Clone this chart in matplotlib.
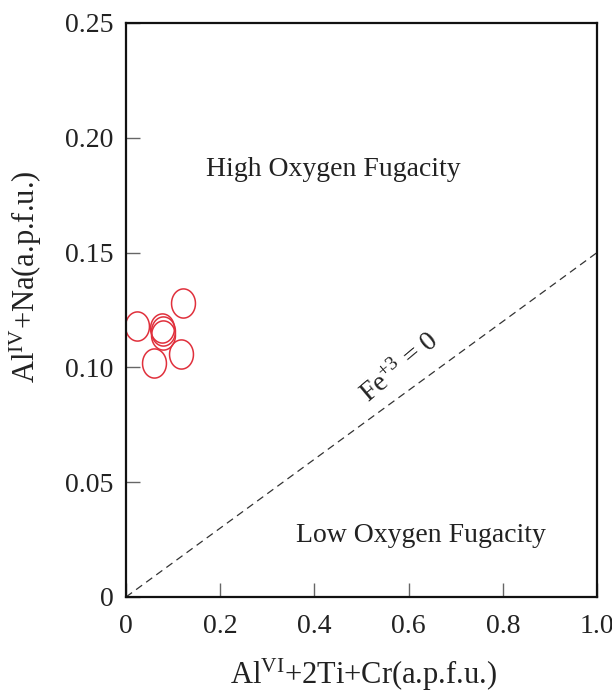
import matplotlib
matplotlib.use("Agg")
import matplotlib.pyplot as plt
import numpy as np
from matplotlib.path import Path

plt.rcParams['font.family'] = ['Liberation Serif', 'DejaVu Serif']
plt.rcParams['mathtext.fontset'] = 'custom'
plt.rcParams['mathtext.rm'] = 'Liberation Serif'
plt.rcParams['mathtext.it'] = 'Liberation Serif'

# data
x_vals = [0.122, 0.024, 0.077, 0.078, 0.079, 0.116, 0.060]
y_vals = [0.128, 0.118, 0.117, 0.116, 0.114, 0.106, 0.102]
line_x = [0.0, 1.0]
line_y = [0.0, 0.15]
x_ticks = [0, 0.2, 0.4, 0.6, 0.8, 1.0]
x_labels = ["0", "0.2", "0.4", "0.6", "0.8", "1.0"]
y_ticks = [0, 0.05, 0.10, 0.15, 0.20, 0.25]
y_labels = ["0", "0.05", "0.10", "0.15", "0.20", "0.25"]

fig = plt.figure(figsize=(6.12, 6.99), dpi=100)
ax = fig.add_axes([126/612, 1-597/699, 471/612, 574/699])

theta = np.linspace(0, 2*np.pi, 60)
ell = Path(np.column_stack([0.82*np.cos(theta), np.sin(theta)]))

ax.plot(line_x, line_y, linestyle=(0, (6, 4)), color='#333333', lw=0.9)
ax.plot(x_vals, y_vals, linestyle='none', marker=ell, markersize=21,
        markerfacecolor='none', markeredgecolor='#e0303c', markeredgewidth=1.1)

ax.set_xlim(0, 1.0)
ax.set_ylim(0, 0.25)
ax.set_xticks(x_ticks)
ax.set_xticklabels(x_labels)
ax.set_yticks(y_ticks)
ax.set_yticklabels(y_labels)
ax.tick_params(direction='in', length=10, width=1, colors='#666666',
               labelcolor='#222222', labelsize=20)
ax.tick_params(axis='x', pad=12)
ax.tick_params(axis='y', pad=9)
for s in ax.spines.values():
    s.set_linewidth(1.6)
    s.set_color('#111111')

ax.text(0.44, 0.186, "High Oxygen Fugacity", ha='center', va='center', fontsize=20, color='#222222')
ax.text(0.626, 0.027, "Low Oxygen Fugacity", ha='center', va='center', fontsize=20, color='#222222')
ax.text(0.58, 0.100, r"Fe$^{+3}$ = 0", ha='center', va='center', fontsize=20,
        rotation=40, color='#222222')

ax.set_xlabel(r"Al$^{\mathrm{VI}}$+2Ti+Cr(a.p.f.u.)", fontsize=22, color='#222222')
ax.set_ylabel(r"Al$^{\mathrm{IV}}$+Na(a.p.f.u.)", fontsize=22, color='#222222')
ax.yaxis.set_label_coords(-0.175, 0.557)
ax.xaxis.set_label_coords(0.505, -0.152)
ax.xaxis.label.set_va('baseline')

fig.savefig("out.png", dpi=100, facecolor='white')
